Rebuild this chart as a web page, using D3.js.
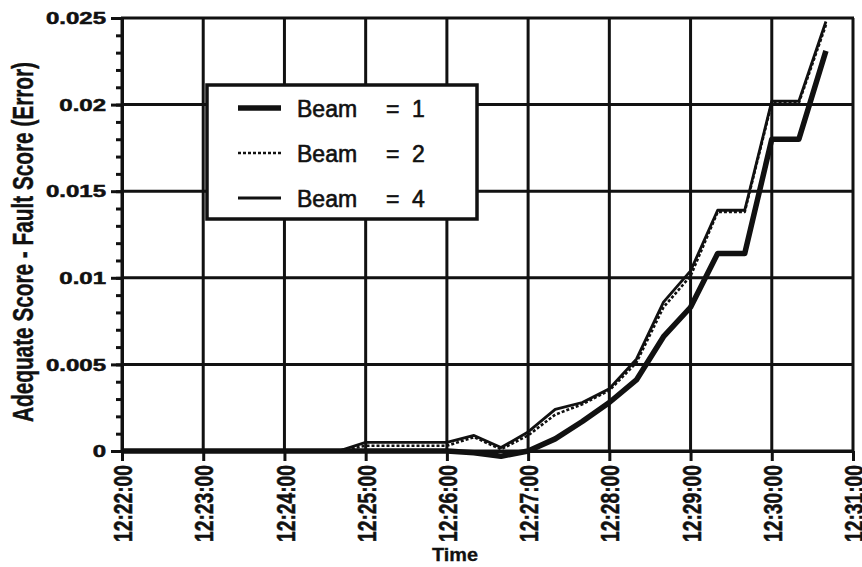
<!DOCTYPE html>
<html>
<head>
<meta charset="utf-8">
<script src="https://cdn.jsdelivr.net/npm/d3@7"></script>
<style>
  body { margin: 0; background: #fff; }
  text { font-family: "Liberation Sans", Arial, sans-serif; fill: #111; }
</style>
</head>
<body>
<div id="chart"></div>
<script>
// Beam search error over time

const times = ["12:22:00", "12:22:20", "12:22:40", "12:23:00", "12:23:20", "12:23:40",
    "12:24:00", "12:24:20", "12:24:40", "12:25:00", "12:25:20", "12:25:40",
    "12:26:00", "12:26:20", "12:26:40", "12:27:00", "12:27:20", "12:27:40",
    "12:28:00", "12:28:20", "12:28:40", "12:29:00", "12:29:20", "12:29:40",
    "12:30:00", "12:30:20", "12:30:40"];

const beam1 = [0, 0, 0, 0, 0, 0, 0, 0, 0, 0, 0, 0, 0, -0.0001, -0.0003, 0, 0.0007, 0.0017,
    0.0028, 0.0041, 0.0066, 0.0083, 0.0114, 0.0114, 0.0180, 0.0180, 0.0231];
const beam2 = [0, 0, 0, 0, 0, 0, 0, 0, 0, 0.0003, 0.0003, 0.0003, 0.0003, 0.0008, 0.0001, 0.0009, 0.0021, 0.0027,
    0.0035, 0.0051, 0.0083, 0.0101, 0.0138, 0.0138, 0.0201, 0.0201, 0.0246];
const beam4 = [0, 0, 0, 0, 0, 0, 0, 0, 0, 0.0005, 0.0005, 0.0005, 0.0005, 0.0009, 0.0002, 0.0011, 0.0024, 0.0028,
    0.0036, 0.0053, 0.0086, 0.0104, 0.0139, 0.0139, 0.0202, 0.0202, 0.0248];

const seriesNames = ["Beam = 1", "Beam = 2", "Beam = 4"];
const yTicks = [0, 0.005, 0.01, 0.015, 0.02, 0.025];
const timeDomain = ["12:22:00", "12:31:00"];

const width = 862, height = 567;
const margin = { top: 18, right: 9, bottom: 116, left: 122 };

const parseTime = d3.timeParse("%H:%M:%S");

const svg = d3.select("#chart")
    .append("svg")
    .attr("width", width)
    .attr("height", height);

const x = d3.scaleTime()
    .domain(timeDomain.map(parseTime))
    .range([margin.left, width - margin.right]);

const y = d3.scaleLinear()
    .domain([0, 0.025])
    .range([height - margin.bottom, margin.top]);

const xTicks = x.ticks(d3.timeMinute.every(1));

// Grid
const grid = svg.append("g")
    .attr("stroke", "#111")
    .attr("stroke-width", 3);

grid.selectAll("line.v")
    .data(xTicks)
    .join("line")
    .attr("class", "v")
    .attr("x1", d => x(d)).attr("x2", d => x(d))
    .attr("y1", y(0)).attr("y2", y(0.025));

grid.selectAll("line.h")
    .data(yTicks)
    .join("line")
    .attr("class", "h")
    .attr("x1", margin.left - 1).attr("x2", width - margin.right + 1)
    .attr("y1", d => y(d)).attr("y2", d => y(d));

// Y axis (minor + major)
svg.append("g")
    .attr("transform", `translate(${margin.left},0)`)
    .call(d3.axisLeft(y).tickValues(d3.range(0, 26).map(i => i * 0.001)).tickSize(6).tickFormat(""))
    .call(g => g.select(".domain").remove())
    .call(g => g.selectAll("line").attr("stroke", "#111").attr("stroke-width", 3));

const yAxis = svg.append("g")
    .attr("transform", `translate(${margin.left},0)`)
    .call(d3.axisLeft(y).tickValues(yTicks).tickFormat(d3.format("~g")).tickSize(11).tickSizeOuter(0));

yAxis.select(".domain").attr("stroke", "#111").attr("stroke-width", 3);
yAxis.selectAll("line").attr("stroke", "#111").attr("stroke-width", 3);
yAxis.selectAll("text")
    .attr("x", 0)
    .attr("dy", "0.36em")
    .attr("transform", "translate(-16,0) scale(1.5,1)")
    .style("font-size", "16px")
    .style("font-weight", "bold")
    .style("fill", "#111")
    .style("stroke", "#111")
    .style("stroke-width", 0.5);

// X axis
const xAxis = svg.append("g")
    .attr("transform", `translate(0,${y(0)})`)
    .call(d3.axisBottom(x).tickValues(xTicks).tickFormat(d3.timeFormat("%H:%M:%S")).tickSize(10).tickSizeOuter(0));

xAxis.select(".domain").attr("stroke", "#111").attr("stroke-width", 3);
xAxis.selectAll("line").attr("stroke", "#111").attr("stroke-width", 3);
xAxis.selectAll("text")
    .attr("x", 0).attr("y", 0)
    .attr("dy", "0.36em")
    .attr("text-anchor", "end")
    .attr("transform", "translate(0,14) scale(1.4,1) rotate(-90)")
    .attr("textLength", 77)
    .attr("lengthAdjust", "spacingAndGlyphs")
    .style("font-size", "19px")
    .style("font-weight", "bold")
    .style("fill", "#111")
    .style("stroke", "#111")
    .style("stroke-width", 0.4);

// Axis titles
svg.append("text")
    .attr("transform", "translate(33,242) scale(1.45,1) rotate(-90)")
    .attr("text-anchor", "middle")
    .attr("textLength", 360)
    .attr("lengthAdjust", "spacingAndGlyphs")
    .style("font-size", "20px")
    .style("font-weight", "bold")
    .style("stroke", "#111")
    .style("stroke-width", 0.3)
    .text("Adequate Score - Fault Score (Error)");

svg.append("text")
    .attr("x", 455)
    .attr("y", 561)
    .attr("text-anchor", "middle")
    .attr("textLength", 46)
    .attr("lengthAdjust", "spacingAndGlyphs")
    .style("font-size", "18px")
    .style("font-weight", "bold")
    .style("stroke", "#111")
    .style("stroke-width", 0.3)
    .text("Time");

// Series
const styles = [
    { data: beam1, width: 5.5, dash: "none" },
    { data: beam4, width: 2.8, dash: "none" },
    { data: beam2, width: 2.6, dash: "3,2" }
];

const line = d3.line()
    .x(d => x(d.t))
    .y(d => y(d.v));

styles.forEach(s => {
    const pts = times.map((t, i) => ({ t: parseTime(t), v: s.data[i] }));
    svg.append("path")
        .datum(pts)
        .attr("fill", "none")
        .attr("stroke", "#111")
        .attr("stroke-width", s.width)
        .attr("stroke-dasharray", s.dash)
        .attr("stroke-linejoin", "round")
        .attr("d", line);
});

// Legend
const legend = svg.append("g");
legend.append("rect")
    .attr("x", 207).attr("y", 85)
    .attr("width", 270).attr("height", 134)
    .attr("fill", "#fff")
    .attr("stroke", "#111")
    .attr("stroke-width", 3.5);

const legendStyles = [
    { width: 5.5, dash: "none" },
    { width: 2.6, dash: "3,2" },
    { width: 2.8, dash: "none" }
];

seriesNames.forEach((name, i) => {
    const cy = 108 + i * 45;
    legend.append("line")
        .attr("x1", 238).attr("x2", 281)
        .attr("y1", cy).attr("y2", cy)
        .attr("stroke", "#111")
        .attr("stroke-width", legendStyles[i].width)
        .attr("stroke-dasharray", legendStyles[i].dash);
    const parts = name.split(" ");
    const t = legend.append("text")
        .attr("y", cy + 9)
        .style("font-size", "23px")
        .style("stroke", "#111")
        .style("stroke-width", 0.6);
    t.append("tspan").attr("x", 297).text(parts[0]);
    t.append("tspan").attr("x", 386).text(parts[1]);
    t.append("tspan").attr("x", 412).text(parts[2]);
});
</script>
</body>
</html>
